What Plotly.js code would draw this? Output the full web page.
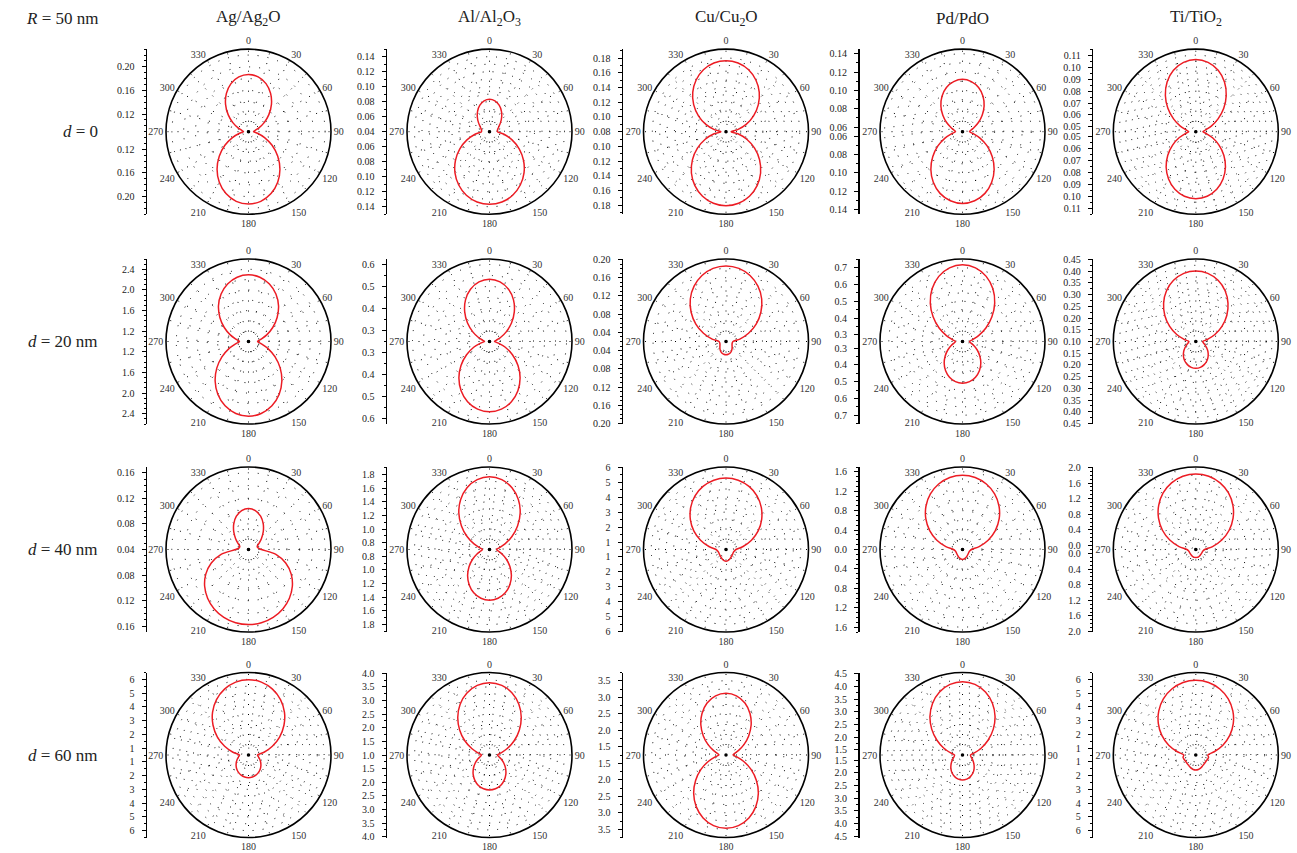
<!DOCTYPE html>
<html><head><meta charset="utf-8">
<script src="https://cdn.plot.ly/plotly-3.0.1.min.js"></script>
<style>html,body{margin:0;padding:0;background:#fff}#chart{width:1297px;height:853px}</style>
</head><body><div id="chart"></div>
<script>
// ---------- DATA ----------
const materials = ['Ag/Ag<sub>2</sub>O', 'Al/Al<sub>2</sub>O<sub>3</sub>', 'Cu/Cu<sub>2</sub>O', 'Pd/PdO', 'Ti/TiO<sub>2</sub>'];
const rowLabels = ['<i>d</i> = 0', '<i>d</i> = 20 nm', '<i>d</i> = 40 nm', '<i>d</i> = 60 nm'];
const sizeLabel = '<i>R</i> = 50 nm';

// polar angle (deg, 0 = top, clockwise); the patterns are mirror-symmetric about 0–180
const angleDeg = [0,10,20,30,40,50,60,70,80,90,100,110,120,130,140,150,160,170,180];
const angleLabelVals = [0,30,60,90,120,150,180,210,240,270,300,330];
const angleLabelText = ['0','30','60','90','120','150','180','210','240','270','300','330'];

// d = 0
const ag0 = [0.1872,0.1845,0.1769,0.1650,0.1506,0.1351,0.1207,0.1088,0.1012,0.0985,0.1054,0.1190,0.1362,0.1548,0.1730,0.1891,0.2018,0.2100,0.2127];
const al0 = [0.0831,0.0816,0.0776,0.0717,0.0652,0.0593,0.0547,0.0520,0.0508,0.0507,0.0596,0.0720,0.0857,0.0992,0.1116,0.1221,0.1302,0.1352,0.1369];
const cu0 = [0.1764,0.1747,0.1695,0.1611,0.1502,0.1373,0.1232,0.1091,0.0960,0.0868,0.0964,0.1100,0.1248,0.1395,0.1531,0.1645,0.1732,0.1786,0.1805];
const pd0 = [0.1121,0.1105,0.1063,0.0997,0.0917,0.0830,0.0750,0.0684,0.0642,0.0626,0.0669,0.0753,0.0860,0.0974,0.1087,0.1187,0.1266,0.1315,0.1332];
const ti0 = [0.1064,0.1049,0.1007,0.0940,0.0856,0.0765,0.0675,0.0598,0.0542,0.0519,0.0549,0.0609,0.0684,0.0766,0.0846,0.0916,0.0972,0.1008,0.1020];
// d = 20 nm
const ag20 = [2.293,2.266,2.187,2.063,1.906,1.725,1.543,1.376,1.242,1.175,1.252,1.403,1.595,1.803,2.006,2.187,2.328,2.417,2.448];
const al20 = [0.5332,0.5254,0.5027,0.4682,0.4254,0.3804,0.3377,0.3032,0.2805,0.2727,0.2909,0.3264,0.3704,0.4191,0.4663,0.5082,0.5413,0.5622,0.5695];
const cu20 = [0.1858,0.1828,0.1741,0.1601,0.1418,0.1199,0.0964,0.0726,0.0508,0.0353,0.0342,0.0342,0.0353,0.0375,0.0407,0.0440,0.0468,0.0484,0.0490];
const pd20 = [0.7179,0.7066,0.6737,0.6230,0.5591,0.4892,0.4212,0.3621,0.3197,0.3018,0.3107,0.3316,0.3615,0.3949,0.4301,0.4618,0.4869,0.5036,0.5089];
const ti20 = [0.4011,0.3952,0.3777,0.3501,0.3137,0.2727,0.2288,0.1866,0.1506,0.1293,0.1330,0.1414,0.1535,0.1677,0.1820,0.1949,0.2050,0.2121,0.2142];
// d = 40 nm
const ag40 = [0.1041,0.1018,0.0954,0.0861,0.0758,0.0663,0.0589,0.0545,0.0549,0.0603,0.0835,0.1019,0.1171,0.1295,0.1395,0.1473,0.1528,0.1562,0.1573];
const al40 = [1.767,1.740,1.664,1.546,1.400,1.237,1.080,0.942,0.844,0.803,0.831,0.895,0.986,1.092,1.200,1.297,1.376,1.426,1.444];
const cu40 = [5.280,5.207,4.993,4.647,4.173,3.613,2.987,2.313,1.660,1.167,1.067,1.033,1.033,1.053,1.087,1.133,1.200,1.253,1.280];
const pd40 = [1.531,1.508,1.436,1.323,1.170,0.987,0.781,0.562,0.348,0.185,0.155,0.144,0.144,0.148,0.157,0.169,0.183,0.198,0.206];
const ti40 = [1.834,1.804,1.715,1.572,1.376,1.145,0.885,0.608,0.335,0.129,0.091,0.078,0.078,0.078,0.083,0.091,0.099,0.104,0.104];
// d = 60 nm
const ag60 = [5.977,5.882,5.598,5.155,4.566,3.867,3.111,2.347,1.649,1.155,1.235,1.365,1.518,1.678,1.831,1.962,2.064,2.129,2.151];
const al60 = [3.656,3.597,3.424,3.156,2.814,2.432,2.047,1.694,1.426,1.294,1.349,1.463,1.610,1.771,1.933,2.076,2.190,2.260,2.286];
const cu60 = [3.120,3.071,2.926,2.704,2.435,2.147,1.877,1.656,1.511,1.462,1.583,1.823,2.126,2.453,2.774,3.056,3.280,3.423,3.471];
const pd60 = [4.188,4.125,3.944,3.656,3.294,2.884,2.462,2.080,1.773,1.615,1.635,1.694,1.785,1.891,2.009,2.120,2.206,2.265,2.285];
const ti60 = [5.933,5.853,5.606,5.220,4.689,4.056,3.351,2.595,1.860,1.373,1.445,1.409,1.373,1.373,1.395,1.445,1.518,1.569,1.591];

// radial axis ranges (value at centre, value at rim)
const rMin_d0 = [0.09, 0.04, 0.08, 0.055, 0.046];
const rMax_d0 = [0.23, 0.15, 0.192, 0.145, 0.115];
const rMin_d20 = [1.0, 0.25, 0.02, 0.26, 0.10];
const rMax_d20 = [2.6, 0.625, 0.201, 0.7525, 0.452];
const rMin_d40 = [0.04, 0.7, 0.5, 0.0, -0.1];
const rMax_d40 = [0.169, 1.91, 6.02, 1.7, 2.01];
const rMin_d60 = [0.5, 1.0, 1.25, 1.3, 0.5];
const rMax_d60 = [6.5, 4.03, 3.75, 4.55, 6.5];

// radial tick labels (shown mirrored on the side axis)
const ticks_ag0 = ['0.12','0.16','0.20'];
const ticks_al0 = ['0.04','0.06','0.08','0.10','0.12','0.14'];
const ticks_cu0 = ['0.08','0.10','0.12','0.14','0.16','0.18'];
const ticks_pd0 = ['0.06','0.08','0.10','0.12','0.14'];
const ticks_ti0 = ['0.05','0.06','0.07','0.08','0.09','0.10','0.11'];
const ticks_ag20 = ['1.2','1.6','2.0','2.4'];
const ticks_al20 = ['0.3','0.4','0.5','0.6'];
const ticks_cu20 = ['0.04','0.08','0.12','0.16','0.20'];
const ticks_pd20 = ['0.3','0.4','0.5','0.6','0.7'];
const ticks_ti20 = ['0.10','0.15','0.20','0.25','0.30','0.35','0.40','0.45'];
const ticks_ag40 = ['0.04','0.08','0.12','0.16'];
const ticks_al40 = ['0.8','1.0','1.2','1.4','1.6','1.8'];
const ticks_cu40 = ['1','2','3','4','5','6'];
const ticks_pd40 = ['0.0','0.4','0.8','1.2','1.6'];
const ticks_ti40 = ['0.0','0.4','0.8','1.2','1.6','2.0'];
const ticks_ag60 = ['1','2','3','4','5','6'];
const ticks_al60 = ['1.0','1.5','2.0','2.5','3.0','3.5','4.0'];
const ticks_cu60 = ['1.5','2.0','2.5','3.0','3.5'];
const ticks_pd60 = ['1.5','2.0','2.5','3.0','3.5','4.0','4.5'];
const ticks_ti60 = ['1','2','3','4','5','6'];

const minor_d0 = [0.01, 0.01, 0.01, 0.01, 0.005];
const minor_d20 = [0.1, 0.05, 0.01, 0.05, 0.025];
const minor_d40 = [0.01, 0.1, 0.5, 0.1, 0.1];
const minor_d60 = [0.5, 0.25, 0.25, 0.25, 0.5];

// ---------- TABLES BUILT FROM THE DATA ----------
const curves = [[ag0,al0,cu0,pd0,ti0],[ag20,al20,cu20,pd20,ti20],[ag40,al40,cu40,pd40,ti40],[ag60,al60,cu60,pd60,ti60]];
const rMins = [rMin_d0, rMin_d20, rMin_d40, rMin_d60];
const rMaxs = [rMax_d0, rMax_d20, rMax_d40, rMax_d60];
const tickSets = [[ticks_ag0,ticks_al0,ticks_cu0,ticks_pd0,ticks_ti0],[ticks_ag20,ticks_al20,ticks_cu20,ticks_pd20,ticks_ti20],
  [ticks_ag40,ticks_al40,ticks_cu40,ticks_pd40,ticks_ti40],[ticks_ag60,ticks_al60,ticks_cu60,ticks_pd60,ticks_ti60]];
const minors = [minor_d0, minor_d20, minor_d40, minor_d60];

// ---------- LAYOUT GEOMETRY ----------
const W = 1297, H = 853, R = 82.5;
const colCx = [248.5, 489.5, 726, 962.5, 1195.8];
const rowCy = [131.7, 341.5, 549.5, 755];
const axisX = [147, 387, 623, 859.5, 1093.3];
const FONT = 'Liberation Serif, DejaVu Serif, serif';
const RED = 'rgb(236,28,36)';
const DOTS = '1px,9px';

// mirror the 0–180° profile onto 180–360°
const thetaFull = angleDeg.concat(angleDeg.slice(1, 18).reverse().map(a => 360 - a)).concat([360]);
function fullR(r) { return r.concat(r.slice(1, 18).reverse()).concat([r[0]]); }

const data = [];
const layout = {
  width: W, height: H, margin: {l: 0, r: 0, t: 0, b: 0},
  paper_bgcolor: '#fff', plot_bgcolor: '#fff', showlegend: false,
  font: {family: FONT, color: '#222'},
  annotations: []
};

for (let i = 0; i < 4; i++) {
  for (let j = 0; j < 5; j++) {
    const n = i * 5 + j + 1;
    const sfx = n === 1 ? '' : String(n);
    const gridId = 2 * n - 1, topId = 2 * n;
    const gsfx = gridId === 1 ? '' : String(gridId), tsfx = String(topId);
    const cx = colCx[j], cy = rowCy[i];
    const r0 = rMins[i][j], r1 = rMaxs[i][j], span = r1 - r0;
    const labels = tickSets[i][j];
    const vals = labels.map(parseFloat);
    const step = vals[1] - vals[0];
    const rings = [];
    for (let k = -20; k <= 40; k++) {
      const v = vals[0] + k * step / 2;
      if (v > r0 + step * 0.1 && v < r1 - step * 0.1) rings.push(v);
    }
    const dom = {x: [(cx - R) / W, (cx + R) / W], y: [1 - (cy + R) / H, 1 - (cy - R) / H]};

    // grid layer (dotted rays every 15°, dotted rings)
    layout['polar' + gsfx] = {
      domain: dom, bgcolor: '#fff',
      angularaxis: {
        rotation: 90, direction: 'clockwise', tickmode: 'linear', tick0: 0, dtick: 15,
        showticklabels: false, ticks: '', showline: false,
        showgrid: true, gridcolor: '#000', gridwidth: 1, griddash: DOTS
      },
      radialaxis: {
        range: [r0, r1], showline: false, showticklabels: false, ticks: '',
        tickmode: 'array', tickvals: rings,
        showgrid: true, gridcolor: '#000', gridwidth: 1, griddash: DOTS
      }
    };
    data.push({type: 'scatterpolar', subplot: 'polar' + gsfx, mode: 'markers', r: [], theta: [], hoverinfo: 'skip'});

    // data layer (outline, angle labels, curve)
    layout['polar' + tsfx] = {
      domain: dom, bgcolor: 'rgba(0,0,0,0)',
      angularaxis: {
        rotation: 90, direction: 'clockwise', tickmode: 'array',
        tickvals: angleLabelVals, ticktext: angleLabelText, ticks: '',
        showline: true, linecolor: '#000', linewidth: 1.6, showgrid: false,
        tickfont: {family: FONT, size: 10, color: '#333'}
      },
      radialaxis: {range: [r0, r1], showline: false, showticklabels: false, ticks: '', showgrid: false}
    };
    data.push({
      type: 'scatterpolar', subplot: 'polar' + tsfx, mode: 'lines',
      theta: thetaFull, r: fullR(curves[i][j]),
      line: {color: RED, width: 1.5, shape: 'spline', smoothing: 0.8},
      hoverinfo: 'skip'
    });
    data.push({
      type: 'scatterpolar', subplot: 'polar' + tsfx, mode: 'markers',
      theta: [0], r: [r0], cliponaxis: false,
      marker: {color: '#000', size: 3.5}, hoverinfo: 'skip'
    });

    // side radial scale (mirrored above / below the centre)
    const tv = [], tt = [];
    vals.forEach((v, k) => {
      const off = v - r0;
      if (Math.abs(off) < 1e-9) { tv.push(0); tt.push(labels[k]); }
      else { tv.push(off); tt.push(labels[k]); tv.push(-off); tt.push(labels[k]); }
    });
    const ms = minors[i][j];
    const mv = [];
    for (let v = Math.ceil((r0 - 1e-9) / ms) * ms; v <= r1 + 1e-9; v += ms) {
      const off = v - r0;
      if (vals.some(x => Math.abs(x - v) < ms * 0.01)) continue;
      if (Math.abs(off) < 1e-9) { mv.push(0); continue; }
      mv.push(off, -off);
    }
    layout['xaxis' + sfx] = {domain: [axisX[j] / W, (axisX[j] + 2) / W], range: [0, 1], visible: false, fixedrange: true};
    layout['yaxis' + sfx] = {
      anchor: 'x' + sfx, domain: [1 - (cy + R) / H, 1 - (cy - R) / H],
      range: [-span, span], fixedrange: true,
      showline: true, linecolor: '#000', linewidth: 1.5,
      ticks: 'outside', ticklen: 4, tickwidth: 1, tickcolor: '#000',
      tickmode: 'array', tickvals: tv, ticktext: tt, ticklabelstandoff: 5,
      showgrid: false, zeroline: false,
      tickfont: {family: FONT, size: 10, color: '#222'},
      minor: {tickmode: 'array', tickvals: mv, ticks: 'outside', ticklen: 2, tickwidth: 1, tickcolor: '#000', showgrid: false}
    };
    data.push({type: 'scatter', x: [], y: [], xaxis: 'x' + sfx, yaxis: 'y' + sfx, hoverinfo: 'skip', showlegend: false});
  }
}

// column titles
materials.forEach((m, j) => layout.annotations.push({
  text: m, x: colCx[j] / W, y: 1 - 18 / H, xref: 'paper', yref: 'paper',
  xanchor: 'center', yanchor: 'middle', showarrow: false, font: {family: FONT, size: 17, color: '#222'}
}));
// row labels
rowLabels.forEach((t, i) => layout.annotations.push({
  text: t, x: 100 / W, y: 1 - rowCy[i] / H, xref: 'paper', yref: 'paper',
  xanchor: 'right', yanchor: 'middle', showarrow: false, font: {family: FONT, size: 17, color: '#222'}
}));
layout.annotations.push({
  text: sizeLabel, x: 100 / W, y: 1 - 18 / H, xref: 'paper', yref: 'paper',
  xanchor: 'right', yanchor: 'middle', showarrow: false, font: {family: FONT, size: 17, color: '#222'}
});

Plotly.newPlot('chart', data, layout, {staticPlot: true, displayModeBar: false});
</script>
</body></html>
